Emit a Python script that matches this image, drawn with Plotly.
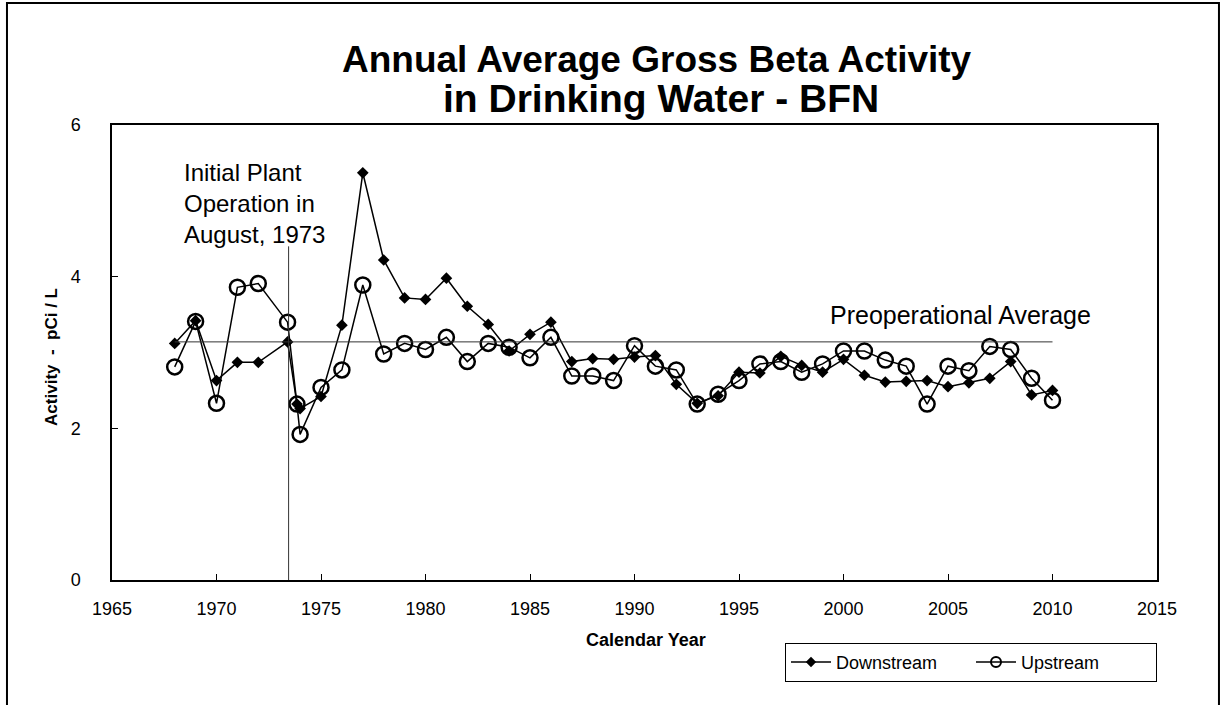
import plotly.graph_objects as go

years = [1968, 1969, 1970, 1971, 1972, 1973.4, 1973.85, 1974, 1975, 1976, 1977, 1978, 1979,
         1980, 1981, 1982, 1983, 1984, 1985, 1986, 1987, 1988, 1989, 1990, 1991, 1992,
         1993, 1994, 1995, 1996, 1997, 1998, 1999, 2000, 2001, 2002, 2003, 2004, 2005,
         2006, 2007, 2008, 2009, 2010]

downstream = [3.12, 3.42, 2.63, 2.87, 2.87, 3.14, 2.32, 2.26, 2.42, 3.36, 5.37, 4.22, 3.72,
              3.70, 3.98, 3.61, 3.37, 3.02, 3.24, 3.40, 2.88, 2.92, 2.91, 2.94, 2.96, 2.58,
              2.33, 2.43, 2.74, 2.73, 2.95, 2.83, 2.74, 2.91, 2.70, 2.61, 2.62, 2.63, 2.55,
              2.60, 2.66, 2.88, 2.44, 2.50]

upstream = [2.81, 3.41, 2.33, 3.86, 3.91, 3.40, 2.32, 1.92, 2.54, 2.77, 3.89, 2.98, 3.12,
            3.04, 3.20, 2.88, 3.12, 3.07, 2.93, 3.20, 2.69, 2.69, 2.63, 3.09, 2.82, 2.77,
            2.32, 2.45, 2.63, 2.85, 2.88, 2.74, 2.85, 3.02, 3.02, 2.90, 2.82, 2.32, 2.82,
            2.76, 3.08, 3.04, 2.66, 2.37]

preop_average = 3.14
preop_span = [1968, 2010]
plant_start = 1973.45
plant_line_top = 4.40

x_ticks = [1965, 1970, 1975, 1980, 1985, 1990, 1995, 2000, 2005, 2010, 2015]
y_ticks = [0, 2, 4, 6]

font = "Liberation Sans, Arial, sans-serif"

fig = go.Figure()

fig.add_trace(go.Scatter(
    x=years, y=downstream, name="Downstream", mode="lines+markers", showlegend=False,
    line=dict(color="black", width=1.5),
    marker=dict(symbol="diamond", size=9, color="black"),
))
fig.add_trace(go.Scatter(
    x=years, y=upstream, name="Upstream", mode="lines+markers", showlegend=False,
    line=dict(color="black", width=1.5),
    marker=dict(symbol="circle-open", size=15, color="black", line=dict(width=2.5)),
))
# legend entries (smaller symbols, as in the reference key)
fig.add_trace(go.Scatter(
    x=[None], y=[None], name="Downstream", mode="lines+markers",
    line=dict(color="black", width=1.5),
    marker=dict(symbol="diamond", size=8, color="black"),
))
fig.add_trace(go.Scatter(
    x=[None], y=[None], name="Upstream", mode="lines+markers",
    line=dict(color="black", width=1.5),
    marker=dict(symbol="circle-open", size=10, color="black", line=dict(width=2)),
))

# preoperational average line
fig.add_shape(type="line", xref="x", yref="y",
              x0=preop_span[0], x1=preop_span[1], y0=preop_average, y1=preop_average,
              line=dict(color="#333", width=1))
# initial plant operation line
fig.add_shape(type="line", xref="x", yref="y",
              x0=plant_start, x1=plant_start, y0=0, y1=plant_line_top,
              line=dict(color="#333", width=1))

# outer frame
fig.add_shape(type="rect", xref="paper", yref="paper",
              x0=-0.1005, x1=1.0593, y0=-0.30, y1=1.268,
              line=dict(color="black", width=2))

# titles
fig.add_annotation(x=0.522, y=1.143, xref="paper", yref="paper",
                   text="<b>Annual Average Gross Beta Activity</b>", showarrow=False,
                   xanchor="center", yanchor="middle",
                   font=dict(family=font, size=37, color="black"))
fig.add_annotation(x=0.525, y=1.059, xref="paper", yref="paper",
                   text="<b>in Drinking Water - BFN</b>", showarrow=False,
                   xanchor="center", yanchor="middle",
                   font=dict(family=font, size=39, color="black"))

fig.add_annotation(x=1968.35, y=4.97, xref="x", yref="y",
                   text="Initial Plant<br>Operation in<br>August, 1973",
                   showarrow=False, xanchor="left", yanchor="middle", align="left",
                   font=dict(family=font, size=24, color="black"))
fig.add_annotation(x=2011.94, y=3.49, xref="x", yref="y",
                   text="Preoperational Average",
                   showarrow=False, xanchor="right", yanchor="middle",
                   font=dict(family=font, size=25, color="black"))

# axis titles
fig.add_annotation(x=-0.0585, y=0.49, xref="paper", yref="paper",
                   text="<b>Activity  -  pCi / L</b>", textangle=-90, showarrow=False,
                   xanchor="center", yanchor="middle",
                   font=dict(family=font, size=17, color="black"))
fig.add_annotation(x=0.511, y=-0.132, xref="paper", yref="paper",
                   text="<b>Calendar Year</b>", showarrow=False,
                   xanchor="center", yanchor="middle",
                   font=dict(family=font, size=18, color="black"))

fig.update_layout(
    width=1226, height=705,
    margin=dict(l=112, r=69, t=125, b=125),
    paper_bgcolor="white", plot_bgcolor="white",
    font=dict(family=font, color="black"),
    showlegend=True,
    legend=dict(orientation="h", x=1.0, xanchor="right", y=-0.138, yanchor="top",
                bordercolor="black", borderwidth=1, bgcolor="white",
                font=dict(family=font, size=18, color="black"),
                itemwidth=40, tracegroupgap=0,
                entrywidth=130, entrywidthmode="pixels"),
    xaxis=dict(range=[1965, 2015], tickvals=x_ticks, ticktext=[str(t) for t in x_ticks],
               showgrid=False, zeroline=False, showline=True, linecolor="black",
               linewidth=1.5, mirror=True, ticks="inside", ticklen=6, tickcolor="black",
               ticklabelstandoff=12,
               tickfont=dict(family=font, size=18, color="black")),
    yaxis=dict(range=[0, 6], tickvals=y_ticks,
               showgrid=False, zeroline=False, showline=True, linecolor="black",
               linewidth=1.5, mirror=True, ticks="inside", ticklen=6, tickcolor="black",
               ticklabelstandoff=26,
               tickfont=dict(family=font, size=18, color="black")),
)

fig.write_html("out.html", config={"displayModeBar": False},
               post_script="document.body.style.margin='0';")
